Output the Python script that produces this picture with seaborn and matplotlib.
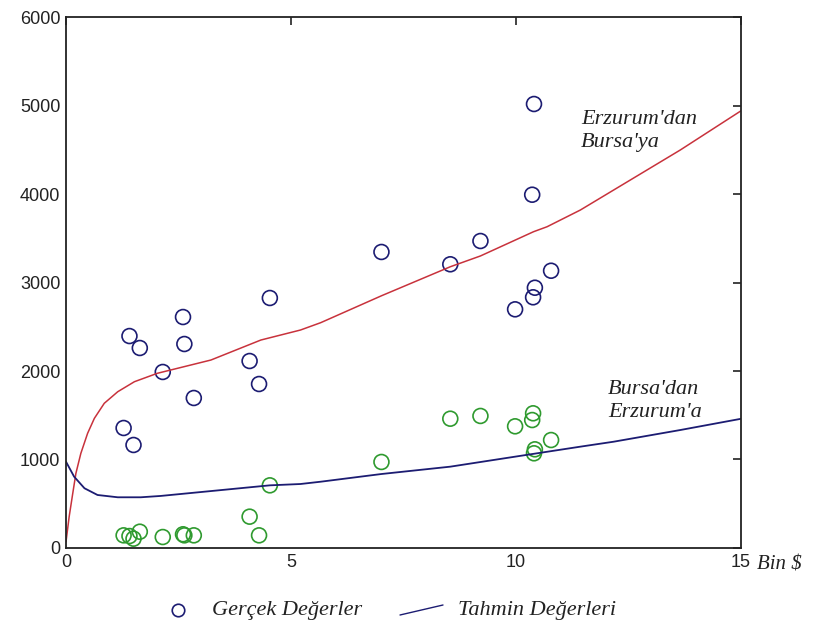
import matplotlib
matplotlib.use("Agg")
import matplotlib.pyplot as plt
from matplotlib.lines import Line2D
import seaborn as sns
import pandas as pd

# Income (thousand $) for each observation, shared by both routes
income = [1.28, 1.41, 1.50, 1.64, 2.15, 2.60, 2.63, 2.84, 4.08, 4.29,
          4.53, 7.01, 8.54, 9.21, 9.98, 10.36, 10.38, 10.40, 10.42, 10.78]

# Observed values: Erzurum -> Bursa and Bursa -> Erzurum
obs_erz_bursa = [1356, 2395, 1164, 2260, 1989, 2610, 2305, 1695, 2113, 1853,
                 2825, 3345, 3206, 3469, 2697, 3992, 2833, 5017, 2941, 3133]
obs_bursa_erz = [143, 135, 105, 184, 124, 155, 143, 143, 354, 143,
                 708, 972, 1461, 1492, 1375, 1446, 1522, 1070, 1115, 1220]

# Fitted (estimated) curves
fit_erz_bursa_x = [0.0, 0.07, 0.15, 0.22, 0.33, 0.48, 0.63, 0.85, 1.15, 1.52,
                   2.03, 3.22, 4.33, 5.21, 5.66, 7.01, 8.54, 9.21, 10.39,
                   10.69, 11.43, 12.17, 13.65, 15.0]
fit_erz_bursa_y = [71, 354, 618, 844, 1070, 1296, 1465, 1635, 1766, 1879,
                   1974, 2124, 2350, 2463, 2546, 2850, 3178, 3300, 3574,
                   3630, 3819, 4045, 4497, 4940]
fit_bursa_erz_x = [0.0, 0.18, 0.41, 0.70, 1.15, 1.66, 2.10, 2.85, 4.53, 5.21,
                   5.66, 7.01, 8.54, 9.98, 11.43, 12.17, 13.65, 15.0]
fit_bursa_erz_y = [975, 806, 675, 599, 573, 573, 588, 625, 708, 723,
                   749, 836, 919, 1032, 1145, 1201, 1333, 1460]

x_ticks = [0, 5, 10, 15]
y_ticks = [0, 1000, 2000, 3000, 4000, 5000, 6000]

RED = "#c8323c"
NAVY = "#1c1c72"
GREEN = "#2f9a2f"

sns.set_theme(style="white")
plt.rcParams["font.family"] = ["Liberation Sans", "DejaVu Sans"]

fig = plt.figure(figsize=(8.14, 6.28), dpi=100)
ax = fig.add_axes([0.0811, 0.1274, 0.8292, 0.8455])

obs1 = pd.DataFrame({"x": income, "y": obs_erz_bursa})
obs2 = pd.DataFrame({"x": income, "y": obs_bursa_erz})
fit1 = pd.DataFrame({"x": fit_erz_bursa_x, "y": fit_erz_bursa_y})
fit2 = pd.DataFrame({"x": fit_bursa_erz_x, "y": fit_bursa_erz_y})

sns.lineplot(data=fit1, x="x", y="y", ax=ax, color=RED, lw=1.1,
             sort=False, estimator=None)
sns.lineplot(data=fit2, x="x", y="y", ax=ax, color=NAVY, lw=1.3,
             sort=False, estimator=None)
sns.scatterplot(data=obs1, x="x", y="y", ax=ax, s=115, marker="o",
                facecolor="none", edgecolor=NAVY, linewidth=1.2)
sns.scatterplot(data=obs2, x="x", y="y", ax=ax, s=115, marker="o",
                facecolor="none", edgecolor=GREEN, linewidth=1.2)

ax.set_xlim(0, 15)
ax.set_ylim(0, 6000)
ax.set_xticks(x_ticks)
ax.set_yticks(y_ticks)
ax.set_xlabel("")
ax.set_ylabel("")
ax.tick_params(direction="in", length=6, width=1.2, top=True, right=True,
               labelsize=13, colors="#222222", pad=4)
for sp in ax.spines.values():
    sp.set_color("#222222")
    sp.set_linewidth(1.3)

serif = dict(family=["Liberation Serif", "DejaVu Serif"], style="italic",
             color="#222222")
ax.text(11.45, 4950, "Erzurum'dan\nBursa'ya", fontsize=16, va="top",
        ha="left", linespacing=1.3, **serif)
ax.text(12.05, 1900, "Bursa'dan\nErzurum'a", fontsize=16, va="top",
        ha="left", linespacing=1.3, **serif)
fig.text(757 / 814, 1 - 565 / 628, "Bin $", fontsize=15, va="center",
         ha="left", **serif)

# Legend drawn below the axes
fig.add_artist(Line2D([178 / 814], [1 - 610 / 628], marker="o", ms=9,
                      mfc="none", mec=NAVY, mew=1.2, ls="none"))
fig.text(212 / 814, 1 - 610 / 628, "Gerçek Değerler", fontsize=16,
         va="center", ha="left", **serif)
fig.add_artist(Line2D([400 / 814, 443 / 814], [1 - 615 / 628, 1 - 605 / 628],
                      color=NAVY, lw=1.0))
fig.text(458 / 814, 1 - 610 / 628, "Tahmin Değerleri", fontsize=16,
         va="center", ha="left", **serif)

fig.savefig("out.png", dpi=100)
